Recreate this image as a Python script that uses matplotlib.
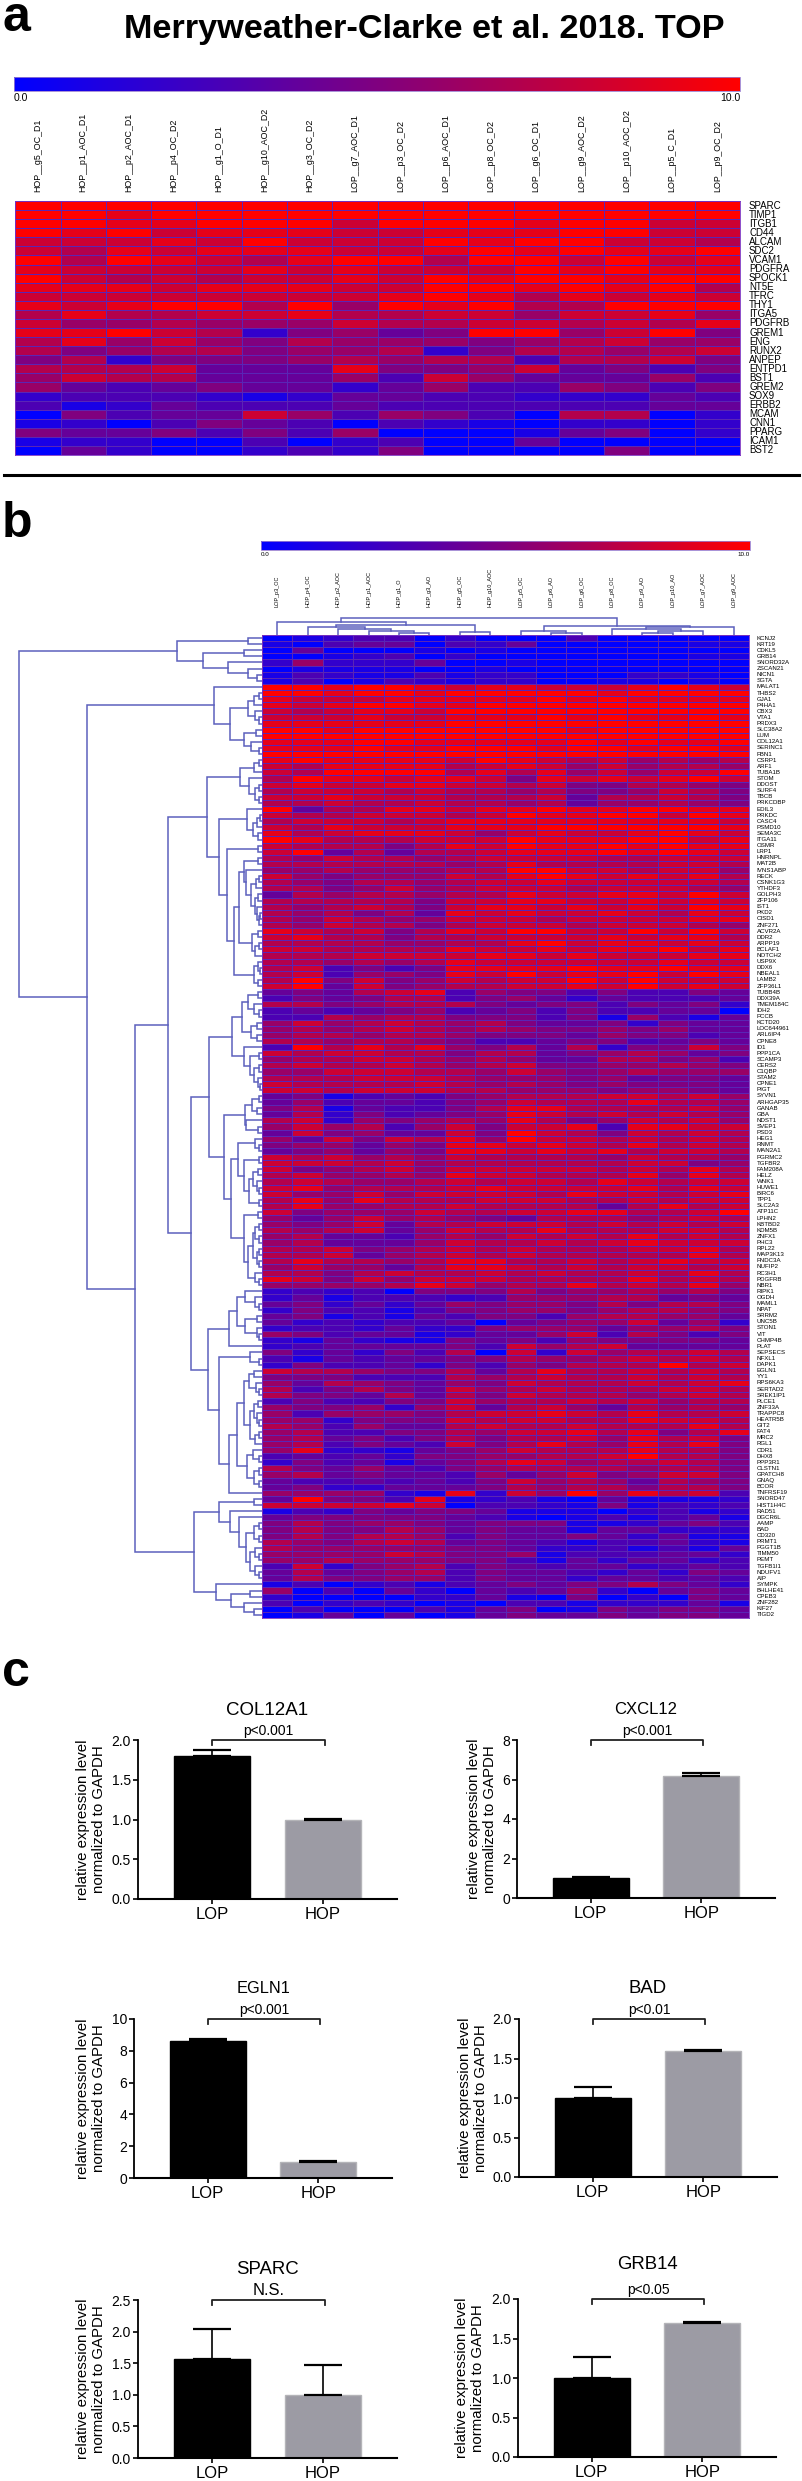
import numpy as np
import matplotlib
matplotlib.use('Agg')
import matplotlib.pyplot as plt
from matplotlib.colors import LinearSegmentedColormap
from matplotlib.cm import ScalarMappable
from matplotlib.colors import Normalize
from matplotlib.lines import Line2D

W = 802
H = 2481
SANS = ['Liberation Sans']

# panel a
samples_a = ['HOP__g5_OC_D1', 'HOP__p1_AOC_D1', 'HOP__p2_AOC_D1', 'HOP__p4_OC_D2', 'HOP__g1_O_D1',
             'HOP__g10_AOC_D2', 'HOP__g3_OC_D2', 'LOP__g7_AOC_D1', 'LOP__p3_OC_D2', 'LOP__p6_AOC_D1',
             'LOP__p8_OC_D2', 'LOP__g6_OC_D1', 'LOP__g9_AOC_D2', 'LOP__p10_AOC_D2', 'LOP__p5_C_D1',
             'LOP__p9_OC_D2']
genes_a = ['SPARC', 'TIMP1', 'ITGB1', 'CD44', 'ALCAM', 'SDC2', 'VCAM1', 'PDGFRA', 'SPOCK1', 'NT5E', 'TFRC',
           'THY1', 'ITGA5', 'PDGFRB', 'GREM1', 'ENG', 'RUNX2', 'ANPEP', 'ENTPD1', 'BST1', 'GREM2', 'SOX9',
           'ERBB2', 'MCAM', 'CNN1', 'PPARG', 'ICAM1', 'BST2']
# one hex digit per cell, 0 = blue, A = red
values_a = ['AAAAAAAAAAAAAAAA', 'AA9AAAAAAAAAAAAA', 'AA99AAA8AAA9AA88', 'A9A899988999AA88',
            '88898A888A9AA887', '8798999889A9A99A', 'A7A9879AA7AA8A89', '98888989888A9A99',
            'A87878898A9AA9AA', '999899988AA9A9A7', '888888889A979898', '989AA7A6A9A77AAA',
            '7977889778868896', '8667666877887879', '99A8725645AA68A5', '7968657666567866',
            '7567756672577678', '5725556767737785', '7778444955684535', '6877444638644463',
            '6434544246336535', '2333212443322243', '3124333433333344', '0534486365307702',
            '1203543032102202', '5445353600014502', '1220030230040000', '0420023250000500']

# panel b
samples_b = ['LOP_p3_OC', 'HOP_p4_OC', 'HOP_p2_AOC', 'HOP_p1_AOC', 'HOP_g1_O', 'HOP_g3_AO', 'HOP_g5_OC',
             'HOP_g10_AOC', 'LOP_p5_OC', 'LOP_p6_AO', 'LOP_g6_OC', 'LOP_p8_OC', 'LOP_p9_AO', 'LOP_p10_AO',
             'LOP_g7_AOC', 'LOP_g9_AOC']
genes_b = ['KCNJ2', 'KRT19', 'CDKL5', 'GRB14', 'SNORD32A', 'ZSCAN21', 'NICN1', 'SGTA', 'MALAT1', 'THBS2',
           'GJA1', 'P4HA1', 'CBX3', 'VTA1', 'PRDX3', 'SLC38A2', 'LUM', 'COL12A1', 'SERINC1', 'FBN1', 'CSRP1',
           'ARF1', 'TUBA1B', 'STOM', 'DDOST', 'SURF4', 'TBCB', 'PRKCDBP', 'EDIL3', 'PRKDC', 'CASC4', 'PSMD10',
           'SEMA3C', 'ITGA11', 'OSMR', 'LRP1', 'HNRNPL', 'MAT2B', 'IVNS1ABP', 'RECK', 'CSNK1G3', 'YTHDF3',
           'GOLPH3', 'ZFP106', 'IST1', 'PKD2', 'CISD1', 'ZNF271', 'ACVR2A', 'DDR2', 'ARPP19', 'BCLAF1',
           'NOTCH2', 'USP9X', 'DDX6', 'NBEAL1', 'LAMB2', 'ZFP36L1', 'TUBB4B', 'DDX39A', 'TMEM184C', 'IDH2',
           'PCCB', 'KCTD20', 'LOC644961', 'ARL6IP4', 'CPNE8', 'ID1', 'PPP1CA', 'SCAMP3', 'CERS2', 'C1QBP',
           'STAM2', 'CPNE1', 'PIGT', 'SYVN1', 'ARHGAP35', 'GANAB', 'GBA', 'NDST1', 'SVEP1', 'PSD3', 'HEG1',
           'RNMT', 'MAN2A1', 'PGRMC2', 'TGFBR2', 'FAM208A', 'HELZ', 'WNK1', 'HUWE1', 'BIRC6', 'TPP1', 'SLC2A3',
           'ATP11C', 'LPHN2', 'KBTBD2', 'KDM5B', 'ZNFX1', 'PHC3', 'RPL22', 'MAP3K13', 'FNDC3A', 'NUFIP2',
           'RC3H1', 'PDGFRB', 'NBR1', 'RIPK1', 'OGDH', 'MAML1', 'NPAT', 'SRRM2', 'UNC5B', 'STON1', 'VIT',
           'CHMP4B', 'PLAT', 'SEPSECS', 'NFXL1', 'DAPK1', 'EGLN1', 'YY1', 'RPS6KA3', 'SERTAD2', 'SREK1IP1',
           'PLCE1', 'ZNF33A', 'TRAPPC8', 'HEATR5B', 'GIT2', 'FAT4', 'MRC2', 'RGL1', 'CDR1', 'DHX8', 'PPP3R1',
           'CLSTN1', 'GPATCH8', 'GNAQ', 'BCOR', 'TNFRSF19', 'SNORD47', 'HIST1H4C', 'RAD51', 'DGCR6L', 'AAMP',
           'BAD', 'CD320', 'PRMT1', 'PGGT1B', 'TIMM50', 'PEMT', 'TGFB1I1', 'NDUFV1', 'AIP', 'SYMPK', 'BHLHE41',
           'CPEB3', 'ZNF282', 'KIF27', 'TIGD2']
values_b = [
    '01233020 00300000', '10344032 40000011', '04000101 00000000', '00123020 00000011',
    '26222400 10000000', '01111001 00000000', '13211312 20002210', '13013212 20011010',
    'AA9AA989 98889A98', 'AA9AA9AA AAA9AAAA', '98889999 9A9A9999', '989AA99A AAAAAAAA',
    '878998AA AAAAAAAA', '88898899 9A9A99A9', '999999AA AAAAAAAA', 'AA9AAAAA AA9AAAAA',
    'AAAAAAAA AAAAAAAA', '999AA999 99A9A99A', '999A99AA A9AA9AA9', 'AAAAAAAA AAAAAAAA',
    '9A99998A 98786767', '87999978 98686776', '87AAAA79 7968688A', '7A998998 598989A8',
    '89889988 78557765', '78887877 67556875', '88988877 78477875', '77877877 67466765',
    'A4779989 9A99AA99', '87788878 A99AA8A9', '78887899 99999998', '87988899 9AAAAAA9',
    '97899986 89889A98', 'A9777888 A999AA89', '87775798 A99A9A99', '8A474778 999A9A98',
    '76877678 88877888', '77777767 97777887', '66766677 AA887886', '86566687 9A989897',
    '76577678 89888887', '77568678 88788876', '47677677 988998A8', '77777588 99889898',
    '76787589 989898A9', '76757498 98898798', '76876688 87888899', '76877578 88788876',
    '98785798 AA88A8A8', '89775778 88898997', '77776677 9A899898', '88777798 89899A89',
    '77788889 98988899', '77676798 88888988', '78353599 99A99A99', '78366598 A899A8A9',
    '7A585687 88A8A888', '8A485677 8898A898', '45478936 55353354', '35457735 64243334',
    '77567775 45535452', '34345634 53533440', '33767755 53516314', '68678767 54452544',
    '67678767 65565644', '67767765 55465534', '77677653 34553454', '3A797965 74725585',
    '87887757 74567645', '67788767 64477563', '78778767 85566765', '66888776 86567666',
    '77788876 66564554', '87777876 76565554', '88788877 66656654', '45134356 77788786',
    '46344356 87779776', '57143357 99777786', '47253456 98787876', '78265676 97568786',
    '68673685 88939988', '48564485 A8758787', '64858796 A8878787', '56646599 89879787',
    '45646599 89897887', '87867687 77768776', '88878677 77778856', '85678688 88878797',
    '78667698 87779697', '78766787 88798788', '89677789 88889798', '86686888 87988789',
    '79697778 88778788', '79667787 77747978', '85666877 8899778A', '64686765 47776787',
    '65684778 88787878', '76784687 79777887', '67443676 87879787', '67444687 78789888',
    '77856787 87778897', '77846787 87777797', '79776799 77878988', '68664799 87878878',
    '77578778 78778797', '98586888 77779787', '66667986 77978796', '23230555 75667675',
    '24133323 66677454', '45242465 66575775', '25331355 66567765', '45131435 53677664',
    '42323340 45668462', '23324225 66646675', '65344124 46837535', '21421154 53655554',
    '23444453 86784444', '52425370 82867787', '31434455 76678787', '25334253 65777A78',
    '87765574 79778787', '55533376 78778787', '64765465 87778789', '73575486 78777887',
    '75547475 87776787', '35335586 77878677', '65562684 78647676', '63666578 89879778',
    '66255587 88779887', '76364478 77877797', '67335576 88979579', '67453575 77869785',
    '67354385 79769795', '69221456 87779775', '34342556 6778A775', '25341457 98677875',
    '75464356 77776775', '67454436 46856885', '43343435 86764765', '45224445 76775775',
    '66662192 86A69783', '4A553912 31041112', '88889803 32151323', '13254554 11102312',
    '45555543 10131341', '57566545 55112453', '57557645 44144222', '57577635 44542411',
    '76578745 43133421', '76666655 42231314', '66668755 61333442', '66766655 31424423',
    '38256735 43442343', '47456735 44324254', '47556635 44244343', '13023134 54557542',
    '60304204 34620454', '20000224 10502054', '30232010 33122241', '03000314 50154554',
    '01404014 54454554']

# dendrograms: node = (merge distance in px, left, right), leaves are row or column indices
row_top = (85, (14, 0, 1), (59, (18, 2, 3), (34, 4, (14, 5, (5, 6, 7)))))
row_red = (48, 8, (32, (14, (8, (3, 9, 10), 11), (7, 12, (3, 13, 14))), (18, (6, 15, 16), (11, 17, (3, 18, 19)))))
row_mid1 = (55, (22, (8, (3, 20, 21), 22), (13, 23, (7, (3, 24, 25), (3, 26, 27)))),
            (43, (15, 28, (9, (5, (2, 29, 30), 31), (4, 32, 33))),
             (35, (4, 34, 35),
              (28, (23, (18, (4, 36, 37), (16, 38, (11, (6, (3, 39, 40), 41), (7, (4, 42, 43), (5, 44, (3, (2, 45, 46), 47)))))),
                    (10, (4, 48, 49), (7, (3, 50, 51), 52))),
               (8, (4, 53, (2, 54, 55)), (4, 56, 57))))))
row_mid2 = (53, (30, (20, (14, (4, 58, 59), (8, 60, (3, 61, 62))), (11, (5, 63, 64), (5, 65, 66))),
                 (18, 67, (12, (3, 68, 69), (8, (3, 70, 71), (4, 72, (2, 73, 74)))))),
            (38, (17, (10, (3, 75, 76), (5, 77, 78)), (16, 79, (4, 80, 81))),
             (31, (24, (7, 82, (3, 83, 84)), (18, (3, 85, 86), (13, (9, (4, 87, 88), (5, 89, (3, 90, 91))), (3, 92, 93)))),
              (18, (4, 94, 95), (14, (9, (7, (3, 96, 97), (3, 98, 99)), (5, (3, 100, 101), (3, 102, 103))), (7, 104, (3, 105, 106)))))))
row_mid3 = (54, (33, (25, (17, 107, (7, 108, (3, 109, 110))), (17, (5, 111, 112), (5, 113, (3, 114, 115)))), 116),
            (43, (12, 117, (3, 118, 119)),
             (33, (25, (18, (13, (8, 120, 121), (6, 122, (3, 123, 124))),
                        (12, (8, (4, 125, 126), (5, 127, (3, 128, 129))), (7, (3, 130, 131), 132))),
                   (15, (9, 133, (3, 134, 135)), (8, (3, 136, 137), (3, 138, 139)))), 140)))
row_low = (68, (43, (8, 141, 142), (32, 143, (23, 144, (16, (8, (3, 145, 146), (3, 147, 148)),
                                                        (12, (7, 149, (3, 150, 151)), (7, 152, (3, 153, 154))))))),
           (46, 155, (31, (12, 156, 157), (18, 158, (8, 159, 160)))))
row_tree = (243, row_top, (175, row_red, (127, (94, row_mid1, (71, row_mid2, row_mid3)), row_low)))
col_tree = (17, (12.7, 0, (10.3, (8, 1, (5.7, 2, (4, 3, (2.5, 4, 5)))), (2.7, 6, 7))),
            (8.7, (4.3, 8, (2.5, 9, 10)), (8, (6, 11, (3.7, (2, 12, 13), 14)), 15)))

# panel c
bar_genes = ['COL12A1', 'CXCL12', 'EGLN1', 'BAD', 'SPARC', 'GRB14']
bar_groups = ['LOP', 'HOP']
bar_means = [[1.8, 1.0], [1.0, 6.2], [8.6, 1.0], [1.0, 1.6], [1.57, 1.0], [1.0, 1.7]]
bar_errs = [[0.07, 0.01], [0.05, 0.13], [0.15, 0.05], [0.14, 0.01], [0.47, 0.47], [0.27, 0.01]]
bar_pvals = ['p<0.001', 'p<0.001', 'p<0.001', 'p<0.01', 'N.S.', 'p<0.05']
bar_ymax = [2.0, 8, 10, 2.0, 2.5, 2.0]
bar_yticks = [[0, 0.5, 1, 1.5, 2], [0, 2, 4, 6, 8], [0, 2, 4, 6, 8, 10], [0, 0.5, 1, 1.5, 2],
              [0, 0.5, 1, 1.5, 2, 2.5], [0, 0.5, 1, 1.5, 2]]
bar_fmt = ['%.1f', '%d', '%d', '%.1f', '%.1f', '%.1f']
# left, top, right, bottom of each axes in px
bar_boxes = [(138, 1740, 397, 1899), (517, 1740, 775, 1898), (134, 2019, 392, 2178),
             (519, 2019, 777, 2177), (138, 2300, 397, 2458), (518, 2299, 776, 2457)]
title_sizes = [13.5, 12, 11.8, 13.4, 13.4, 13.4]
title_gaps = [25, 26, 26, 26, 26, 30]
label_gaps = [32, 20, 28, 31, 32, 33]
pval_sizes = [10, 10, 10, 10, 12, 10]

cmap = LinearSegmentedColormap.from_list('bluered', ['#0000ff', '#ff0000'])
norm = Normalize(0, 10)
GRID = '#5a25b5'
TREE = '#5c60bd'


def parse(rows):
    return np.array([[int(c, 16) for c in r.replace(' ', '')] for r in rows], dtype=float)


def ax_px(x0, y0, x1, y1):
    return fig.add_axes([x0 / W, 1 - y1 / H, (x1 - x0) / W, (y1 - y0) / H])


def heatmap(box, vals, lw):
    ax = ax_px(*box)
    ax.pcolormesh(vals, cmap=cmap, norm=norm, edgecolors=GRID, linewidth=lw)
    ax.set_ylim(vals.shape[0], 0)
    ax.set_xlim(0, vals.shape[1])
    ax.set_xticks([])
    ax.set_yticks([])
    for s in ax.spines.values():
        s.set_color('#7a30c0')
        s.set_linewidth(0.6)
    return ax


def bar_key(box, size):
    cax = ax_px(*box)
    cb = fig.colorbar(ScalarMappable(norm=norm, cmap=cmap), cax=cax, orientation='horizontal')
    cb.set_ticks([0, 10], labels=['0.0', '10.0'])
    cax.tick_params(length=0, pad=1.5, labelsize=size)
    labs = cax.get_xticklabels()
    labs[0].set_ha('left')
    labs[1].set_ha('right')
    for t in labs:
        t.set_family(SANS)
    cb.outline.set_edgecolor('#9a80d0')
    cb.outline.set_linewidth(0.6)


def draw_tree(ax, node, horizontal):
    if not isinstance(node, tuple):
        return node + 0.5, 0
    h, a, b = node
    pa, ha = draw_tree(ax, a, horizontal)
    pb, hb = draw_tree(ax, b, horizontal)
    hs = [ha, h, h, hb]
    ps = [pa, pa, pb, pb]
    if horizontal:
        ax.plot(hs, ps, color=TREE, lw=1.1, solid_joinstyle='miter')
    else:
        ax.plot(ps, hs, color=TREE, lw=1.1, solid_joinstyle='miter')
    return (pa + pb) / 2, h


fig = plt.figure(figsize=(W / 100, H / 100), dpi=100)

fig.text(124 / W, 1 - 38 / H, 'Merryweather-Clarke et al. 2018. TOP', family=SANS, weight='bold',
         fontsize=24.7, ha='left', va='baseline')
for lab, y in zip(['a', 'b', 'c'], [31, 537, 1686]):
    fig.text(2 / W, 1 - y / H, lab, family=SANS, weight='bold', fontsize=36, ha='left', va='baseline')

# panel a
bar_key((14, 77, 740, 91), 7.5)
vals_a = parse(values_a)
ax = heatmap((15.3, 201, 740, 455), vals_a, 0.7)
for j, s in enumerate(samples_a):
    ax.text(j + 0.5, -1, s, rotation=90, ha='center', va='bottom', family=SANS, fontsize=6.4, clip_on=False)
for i, g in enumerate(genes_a):
    ax.text(16.2, i + 0.5, g, ha='left', va='center', family=SANS, fontsize=7, clip_on=False)

fig.add_artist(Line2D([4 / W, 799 / W], [1 - 475 / H, 1 - 475 / H], color='black', lw=2.2,
                      transform=fig.transFigure))

# panel b
bar_key((261, 541, 750, 550), 4.5)
vals_b = parse(values_b)
ax = heatmap((262, 635, 749, 1618), vals_b, 0.55)
for j, s in enumerate(samples_b):
    ax.text(j + 0.5, -4.6, s, rotation=90, ha='center', va='bottom', family=SANS, fontsize=4, clip_on=False)
for i, g in enumerate(genes_b):
    ax.text(16.25, i + 0.5, g, ha='left', va='center', family=SANS, fontsize=4.4, clip_on=False)

tree_ax = ax_px(0, 635, 262, 1618)
tree_ax.set_xlim(262, 0)
tree_ax.set_ylim(len(genes_b), 0)
tree_ax.axis('off')
draw_tree(tree_ax, row_tree, True)

top_ax = ax_px(262, 617, 749, 635)
top_ax.set_xlim(0, len(samples_b))
top_ax.set_ylim(0, 18)
top_ax.axis('off')
draw_tree(top_ax, col_tree, False)

# panel c
for k, gene in enumerate(bar_genes):
    box = bar_boxes[k]
    ax = ax_px(*box)
    ax.bar([0, 1], bar_means[k], width=0.685, color=['black', '#9c9ba4'], edgecolor=['black', '#b4b4b8'], lw=1,
           zorder=2)
    ax.errorbar([0, 1], bar_means[k], yerr=[[0, 0], bar_errs[k]], fmt='none', ecolor='black', elinewidth=1.2,
                capsize=13.5, capthick=1.6, zorder=3)
    ax.set_xlim(-0.667, 1.667)
    ax.set_ylim(0, bar_ymax[k])
    ax.set_xticks([0, 1], bar_groups)
    ax.set_yticks(bar_yticks[k], [bar_fmt[k] % v for v in bar_yticks[k]])
    ax.spines['top'].set_visible(False)
    ax.spines['right'].set_visible(False)
    ax.spines['left'].set_linewidth(1.3)
    ax.spines['bottom'].set_linewidth(1.5)
    ax.tick_params(axis='both', width=1.2, length=3.5, pad=1.5)
    ax.tick_params(axis='y', labelsize=10)
    ax.tick_params(axis='x', labelsize=12, pad=2)
    for t in ax.get_xticklabels() + ax.get_yticklabels():
        t.set_family(SANS)
    ax.set_ylabel('relative expression level\nnormalized to GAPDH', family=SANS, fontsize=10.8, linespacing=1.2)
    ax.yaxis.set_label_coords(-label_gaps[k] / (box[2] - box[0]), 0.5)
    ax.set_title(gene, family=SANS, fontsize=title_sizes[k], pad=title_gaps[k] * 0.72, x=0.5)
    # significance bracket
    top = bar_ymax[k]
    drop = top * 0.03
    ax.plot([0, 0, 1.02, 1.02], [top - drop, top, top, top - drop], color='#222222', lw=1.3, clip_on=False)
    ax.annotate(bar_pvals[k], (0.51, top), xytext=(0, 1.5), textcoords='offset points', ha='center', va='bottom',
                family=SANS, fontsize=pval_sizes[k], annotation_clip=False)

fig.savefig('out.png', dpi=100)
